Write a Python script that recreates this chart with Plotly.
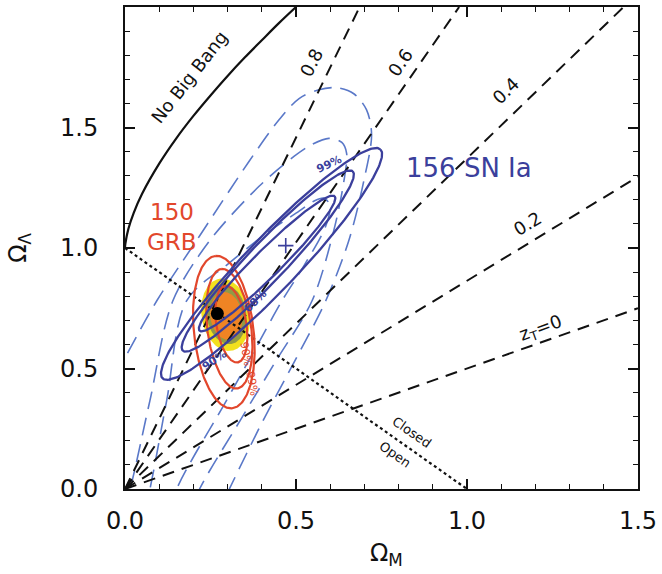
import numpy as np
import plotly.graph_objects as go

# ---------------- data ----------------
# No Big Bang boundary (Omega_M, Omega_Lambda)
nbb_om = [0.0, 0.001, 0.01, 0.025, 0.05, 0.1, 0.15, 0.2, 0.25, 0.3, 0.35, 0.4, 0.45, 0.5]
nbb_ol = [1.0, 1.017, 1.080, 1.144, 1.225, 1.350, 1.455, 1.548, 1.633, 1.714, 1.790, 1.862, 1.933, 2.0]

# transition-redshift lines z_t, from the origin to the frame
zt_labels = ["z<sub>T</sub>=0", "0.2", "0.4", "0.6", "0.8"]
zt_end_om = [1.5, 1.5, 1.458, 0.977, 0.686]
zt_end_ol = [0.75, 1.296, 2.0, 2.0, 2.0]

# flat universe line (Closed / Open)
flat_om = [0.0, 1.0]
flat_ol = [1.0, 0.0]

# blue long-dashed contours (outer, middle, inner), traced points
snd_outer_om = [-0.189, -0.087, 0.0, 0.093, 0.218, 0.363, 0.451, 0.509, 0.567, 0.619, 0.669,
                0.706, 0.721, 0.698, 0.654, 0.587, 0.497, 0.404, 0.305, 0.233]
snd_outer_ol = [0.079, 0.326, 0.545, 0.781, 1.050, 1.360, 1.533, 1.620, 1.657, 1.665, 1.640,
                1.574, 1.471, 1.277, 1.029, 0.781, 0.533, 0.285, 0.0, -0.211]
snd_mid_om = [-0.029, 0.015, 0.073, 0.140, 0.247, 0.392, 0.494, 0.547, 0.596, 0.634, 0.648,
              0.640, 0.610, 0.547, 0.442, 0.337, 0.218, 0.154]
snd_mid_ol = [-0.211, 0.0, 0.368, 0.781, 1.029, 1.256, 1.380, 1.430, 1.455, 1.438, 1.393,
              1.277, 1.070, 0.781, 0.533, 0.285, 0.0, -0.211]
snd_in_om = [0.038, 0.073, 0.122, 0.180, 0.305, 0.422, 0.509, 0.552, 0.581, 0.599, 0.587,
             0.523, 0.459, 0.378, 0.297, 0.151, 0.102]
snd_in_ol = [-0.211, 0.0, 0.368, 0.781, 0.938, 1.070, 1.153, 1.194, 1.207, 1.178, 1.091,
             0.926, 0.781, 0.574, 0.368, 0.0, -0.211]

# elliptical contours: centre, major half-vector, minor half-vector (data units)
sn_cx = [0.4285, 0.4175, 0.4155]
sn_cy = [0.934, 0.946, 0.936]
sn_ux = [0.3185, 0.2485, 0.1975]
sn_uy = [0.475, 0.372, 0.279]
sn_vx = [0.055, 0.040, 0.028]
sn_vy = [-0.076, -0.055, -0.039]

grb_cx = [0.289, 0.305, 0.311]
grb_cy = [0.651, 0.665, 0.684]
grb_ux = [-0.0247, -0.0233, -0.0174]
grb_uy = [0.316, 0.248, 0.159]
grb_vx = [0.0867, 0.0635, 0.0436]
grb_vy = [0.0137, 0.012, 0.0064]

comb_cx = [0.294, 0.2965, 0.296]
comb_cy = [0.723, 0.725, 0.718]
comb_ux = [-0.0145, -0.0116, -0.0087]
comb_uy = [0.150, 0.124, 0.099]
comb_vx = [0.070, 0.058, 0.0465]
comb_vy = [0.010, 0.008, 0.006]
comb_colors = ["#f2e01e", "#929a45", "#ef8424"]

best_comb = (0.27, 0.728)
best_sn = (0.47, 1.01)

BLACK = "#111111"
BLUE = "#3b3f9c"
BLUE_D = "#5a78c8"
RED = "#e2472c"

t = np.linspace(0, 2 * np.pi, 241)


def ellipse(cx, cy, ux, uy, vx, vy):
    return (cx + ux * np.cos(t) + vx * np.sin(t),
            cy + uy * np.cos(t) + vy * np.sin(t))


fig = go.Figure()

# combined filled regions
for i in range(3):
    x, y = ellipse(comb_cx[i], comb_cy[i], comb_ux[i], comb_uy[i], comb_vx[i], comb_vy[i])
    fig.add_trace(go.Scatter(x=x, y=y, mode="lines", fill="toself",
                             fillcolor=comb_colors[i], line=dict(width=0),
                             hoverinfo="skip", showlegend=False))

# blue dashed contours
for xs, ys in [(snd_outer_om, snd_outer_ol), (snd_mid_om, snd_mid_ol), (snd_in_om, snd_in_ol)]:
    fig.add_trace(go.Scatter(x=xs, y=ys, mode="lines", line_shape="spline",
                             line=dict(color=BLUE_D, width=1.6, dash="18px,9px", smoothing=0.9),
                             hoverinfo="skip", showlegend=False))

# z_t lines
for i in range(len(zt_labels)):
    fig.add_trace(go.Scatter(x=[0, zt_end_om[i]], y=[0, zt_end_ol[i]], mode="lines",
                             line=dict(color=BLACK, width=2, dash="12px,8px"),
                             hoverinfo="skip", showlegend=False))

# flat line
fig.add_trace(go.Scatter(x=flat_om, y=flat_ol, mode="lines",
                         line=dict(color=BLACK, width=2.2, dash="dot"),
                         hoverinfo="skip", showlegend=False))

# No Big Bang
fig.add_trace(go.Scatter(x=nbb_om, y=nbb_ol, mode="lines", line_shape="spline",
                         line=dict(color=BLACK, width=2.2),
                         hoverinfo="skip", showlegend=False))

# GRB contours
for i in range(3):
    x, y = ellipse(grb_cx[i], grb_cy[i], grb_ux[i], grb_uy[i], grb_vx[i], grb_vy[i])
    fig.add_trace(go.Scatter(x=x, y=y, mode="lines", line=dict(color=RED, width=2.2),
                             hoverinfo="skip", showlegend=False))

# SN contours
for i in range(3):
    x, y = ellipse(sn_cx[i], sn_cy[i], sn_ux[i], sn_uy[i], sn_vx[i], sn_vy[i])
    fig.add_trace(go.Scatter(x=x, y=y, mode="lines", line=dict(color=BLUE, width=2.3),
                             hoverinfo="skip", showlegend=False))

fig.add_trace(go.Scatter(x=[best_sn[0]], y=[best_sn[1]], mode="markers",
                         marker=dict(symbol="cross-thin", size=11,
                                     line=dict(color=BLUE, width=1.6)),
                         hoverinfo="skip", showlegend=False))
fig.add_trace(go.Scatter(x=[best_comb[0]], y=[best_comb[1]], mode="markers",
                         marker=dict(symbol="circle", size=13, color="black"),
                         hoverinfo="skip", showlegend=False))

FONT = "DejaVu Sans"
ann = []


def label(x, y, text, size=17, color=BLACK, angle=0):
    ann.append(dict(x=x, y=y, xref="x", yref="y", text=text, showarrow=False,
                    xanchor="center", yanchor="middle",
                    textangle=angle, font=dict(family=FONT, size=size, color=color)))


label(0.19, 1.71, "No Big Bang", 18, BLACK, -52)
label(0.545, 1.77, "0.8", 18, BLACK, -63)
label(0.805, 1.77, "0.6", 18, BLACK, -55)
label(1.113, 1.655, "0.4", 18, BLACK, -44)
label(1.177, 1.103, "0.2", 18, BLACK, -31)
label(1.215, 0.665, "z<sub>T</sub>=0", 18, BLACK, -20)
label(0.84, 0.235, "Closed", 13, BLACK, 35)
label(0.79, 0.145, "Open", 13, BLACK, 35)
label(1.006, 1.33, "156 SN Ia", 26, BLUE, 0)
label(0.137, 1.148, "150", 23, RED, 0)
label(0.137, 1.025, "GRB", 23, RED, 0)
label(0.596, 1.347, "<b>99%</b>", 11, BLUE, -25)
label(0.26, 0.535, "<b>90%</b>", 11, BLUE, -35)
label(0.38, 0.78, "<b>68%</b>", 11, BLUE, -45)
label(0.355, 0.56, "90%", 11, RED, 80)
label(0.37, 0.44, "99%", 11, RED, 80)

ann.append(dict(x=0.765, y=-0.135, xref="x", yref="paper", text="Ω<sub>M</sub>",
                xanchor="center", yanchor="middle",
                showarrow=False, font=dict(family=FONT, size=24, color=BLACK)))
ann.append(dict(x=-0.207, y=0.5, xref="paper", yref="paper", text="Ω<sub>Λ</sub>",
                xanchor="center", yanchor="middle",
                showarrow=False, textangle=-90, font=dict(family=FONT, size=24, color=BLACK)))

axis_common = dict(showgrid=False, zeroline=False, showline=True, linecolor=BLACK,
                   linewidth=2, mirror="allticks", ticks="inside", ticklen=10,
                   tickwidth=1.5, tickcolor=BLACK,
                   minor=dict(ticks="inside", ticklen=5, tickwidth=1.2, tickcolor=BLACK),
                   tickfont=dict(family=FONT, size=24, color=BLACK))

fig.update_layout(
    width=662, height=574,
    margin=dict(l=125, r=21, t=5, b=85),
    paper_bgcolor="white", plot_bgcolor="white",
    xaxis=dict(range=[0, 1.5], tickvals=[0, 0.5, 1.0, 1.5],
               ticktext=["0.0", "0.5", "1.0", "1.5"], ticklabelstandoff=9, **axis_common),
    yaxis=dict(range=[0, 2.0], tickvals=[0, 0.5, 1.0, 1.5, 2.0],
               ticktext=["0.0", "0.5", "1.0", "1.5", "2.0"], ticklabelstandoff=20, **axis_common),
    annotations=ann,
)
fig.update_xaxes(minor_dtick=0.1, minor_tick0=0)
fig.update_yaxes(minor_dtick=0.1, minor_tick0=0)

fig.write_html("out.html", config={"displayModeBar": False},
               post_script="document.body.style.margin='0px';")
